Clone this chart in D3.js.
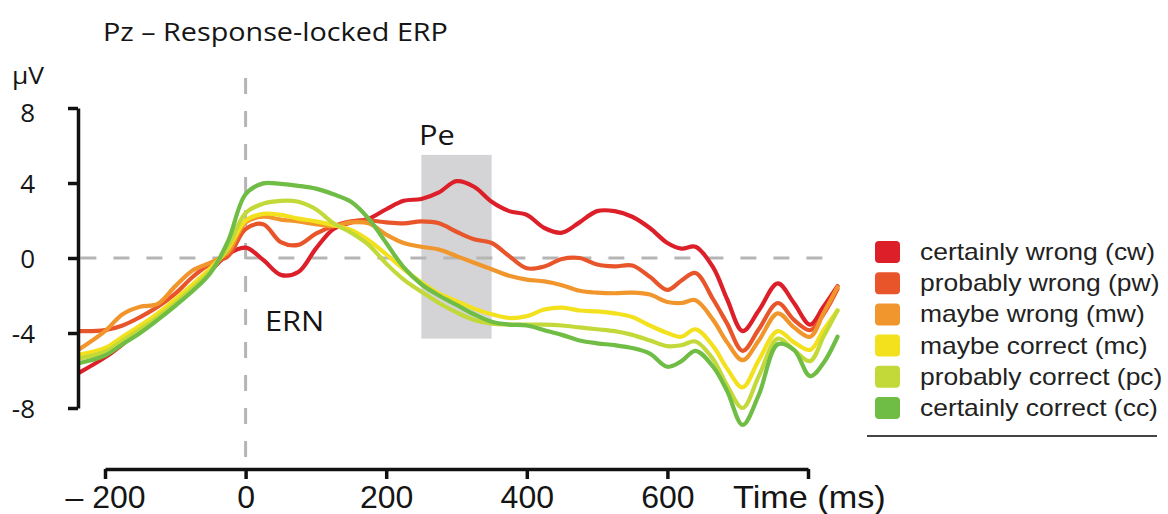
<!DOCTYPE html>
<html>
<head>
<meta charset="utf-8">
<script src="https://cdn.jsdelivr.net/npm/d3@7.9.0/dist/d3.min.js"></script>
<style>
  body { margin: 0; background: #fff; }
  svg { display: block; }
</style>
</head>
<body>
<svg id="chart" width="1168" height="514"></svg>
<script>
// time points (ms) shared by all six conditions
const times = [-236, -200, -175, -150, -125, -100, -75, -50, -25, 0, 25, 50, 75, 100, 125, 150, 175, 200,
  225, 250, 275, 300, 325, 350, 375, 400, 425, 450, 475, 500, 525, 550, 575, 600, 620, 640, 665, 685,
  707, 730, 757, 780, 803, 822, 842];

// amplitude (µV) per condition
const cw = [-6.1, -5.3, -4.6, -3.8, -3.1, -2.4, -1.6, -0.7, 0.2, 0.55, -0.1, -0.9, -0.75, 0.5, 1.55, 1.9, 2.1, 2.6,
  3.05, 3.15, 3.5, 4.1, 3.8, 3.0, 2.5, 2.3, 1.6, 1.35, 1.9, 2.5, 2.5, 2.2, 1.6, 0.8, 0.5, 0.6, -0.5, -2.2,
  -3.9, -2.8, -1.35, -2.4, -3.55, -2.6, -1.5];
const pw = [-3.9, -3.85, -3.6, -3.15, -2.6, -1.9, -1.0, -0.3, 0.1, 1.55, 1.8, 0.85, 0.7, 1.3, 1.7, 1.95, 2.0, 1.9,
  1.85, 1.95, 1.85, 1.4, 1.0, 0.8, 0.1, -0.55, -0.45, -0.05, 0.0, -0.35, -0.45, -0.4, -1.0, -1.7, -1.2, -0.8, -2.2, -3.5,
  -4.95, -3.8, -2.4, -3.3, -3.85, -3.0, -1.65];
const mw = [-4.85, -3.9, -3.0, -2.6, -2.45, -1.5, -0.65, -0.25, 0.3, 1.9, 2.2, 2.05, 1.95, 1.8, 1.7, 1.9, 1.85, 1.25,
  0.8, 0.6, 0.45, 0.1, -0.25, -0.6, -0.95, -1.15, -1.25, -1.45, -1.75, -1.85, -1.88, -1.85, -1.95, -2.35, -2.4, -2.25, -3.3, -4.5,
  -5.45, -4.4, -2.95, -3.7, -4.2, -2.95, -1.55];
const mc = [-5.15, -4.8, -4.2, -3.6, -2.95, -2.2, -1.4, -0.55, 0.5, 2.0, 2.35, 2.3, 2.1, 1.95, 1.75, 1.5, 0.95, 0.2,
  -0.6, -1.3, -1.9, -2.3, -2.7, -3.0, -3.2, -3.1, -2.75, -2.65, -2.8, -2.85, -2.95, -3.15, -3.6, -4.0, -4.2, -3.8, -4.7, -5.9,
  -6.9, -5.45, -3.9, -4.5, -4.9, -3.85, -2.8];
const pc = [-5.35, -5.0, -4.4, -3.8, -3.15, -2.4, -1.6, -0.7, 0.6, 2.4, 2.9, 3.05, 3.0, 2.6, 1.85, 1.35, 0.7, -0.3,
  -1.15, -1.8, -2.4, -2.9, -3.3, -3.5, -3.55, -3.55, -3.55, -3.6, -3.7, -3.8, -3.9, -4.1, -4.4, -4.7, -4.65, -4.45, -5.4, -6.8,
  -8.0, -6.3, -4.3, -4.9, -5.5, -4.2, -2.8];
const cc = [-5.6, -5.2, -4.6, -4.0, -3.3, -2.55, -1.75, -0.8, 0.9, 3.4, 3.98, 3.95, 3.85, 3.7, 3.4, 3.0, 2.1, 0.8,
  -0.5, -1.4, -2.0, -2.5, -3.0, -3.4, -3.55, -3.6, -3.85, -4.1, -4.4, -4.55, -4.65, -4.8, -5.1, -5.8, -5.5, -4.95, -5.8, -7.1,
  -8.9, -7.3, -4.6, -4.9, -6.3, -5.6, -4.2];

const labels = ['certainly wrong (cw)', 'probably wrong (pw)', 'maybe wrong (mw)',
  'maybe correct (mc)', 'probably correct (pc)', 'certainly correct (cc)'];
const colors = ['#dc1f29', '#e8552a', '#f1962c', '#f2e11c', '#c3d93a', '#6fbd45'];

const xTicks = [-200, 0, 200, 400, 600, 800];
const yTicks = [-8, -4, 0, 4, 8];
const peWindow = [250, 350];   // ms
const peRange = [-4.3, 5.5];   // µV

const series = [cw, pw, mw, mc, pc, cc].map((vals, i) => ({ label: labels[i], color: colors[i], values: vals }));

const svg = d3.select('#chart');
const x = d3.scaleLinear().domain([-200, 800]).range([105, 808]);
const y = d3.scaleLinear().domain([-8, 8]).range([408, 108]);
const sans = '"Open Sans", sans-serif';
const arial = '"Liberation Sans", Arial, sans-serif';

function label(str, px, py, size, family, sx, anchor) {
  svg.append('text')
    .attr('transform', `translate(${px},${py}) scale(${sx},1)`)
    .attr('font-family', family)
    .attr('font-size', size)
    .attr('text-anchor', anchor || 'start')
    .attr('fill', '#151515')
    .text(str);
}

// Pe window
svg.append('rect')
  .attr('x', x(peWindow[0]))
  .attr('y', y(peRange[1]))
  .attr('width', x(peWindow[1]) - x(peWindow[0]))
  .attr('height', y(peRange[0]) - y(peRange[1]))
  .attr('fill', '#d4d4d6');

// dashed reference lines
svg.append('line')
  .attr('x1', x(-235)).attr('x2', x(830))
  .attr('y1', y(0)).attr('y2', y(0))
  .attr('stroke', '#b5b5b5').attr('stroke-width', 3)
  .attr('stroke-dasharray', '16 17');
svg.append('line')
  .attr('x1', x(0)).attr('x2', x(0))
  .attr('y1', 78).attr('y2', 466)
  .attr('stroke', '#b5b5b5').attr('stroke-width', 3)
  .attr('stroke-dasharray', '16 17');

// ERP traces
const line = d3.line()
  .x((d, i) => x(times[i]))
  .y(d => y(d))
  .curve(d3.curveCatmullRom.alpha(0.5));

svg.append('g')
  .selectAll('path')
  .data(series)
  .join('path')
  .attr('d', d => line(d.values))
  .attr('fill', 'none')
  .attr('stroke', d => d.color)
  .attr('stroke-width', 4.2)
  .attr('stroke-linejoin', 'round')
  .attr('stroke-linecap', 'round');

// y axis
const yAxis = svg.append('g')
  .attr('transform', 'translate(78,0)')
  .call(d3.axisLeft(y).tickValues(yTicks).tickSizeInner(10).tickSizeOuter(0).tickPadding(33)
    .tickFormat(d => d));
yAxis.selectAll('path, line').attr('stroke', '#111').attr('stroke-width', 3.5);
yAxis.selectAll('text').attr('font-family', sans).attr('font-size', 26).attr('fill', '#151515')
  .attr('dy', d => d === 8 ? '0.5em' : '0.36em');

// x axis
const xAxis = svg.append('g')
  .attr('transform', 'translate(0,469)')
  .call(d3.axisBottom(x).tickValues(xTicks).tickSizeInner(10).tickSizeOuter(0).tickPadding(6)
    .tickFormat(d => d === 800 ? '' : (d < 0 ? '\u2013 ' + Math.abs(d) : d)));
xAxis.selectAll('path, line').attr('stroke', '#111').attr('stroke-width', 3.5);
xAxis.selectAll('text').attr('font-family', arial).attr('font-size', 32).attr('fill', '#151515');

// texts
label('Pz \u2013 Response-locked ERP', 103, 41, 25, sans, 1.15);
label('\u03bcV', 12, 84, 24, sans, 1.1);
label('ERN', 265, 331, 28, sans, 1.1);
label('Pe', 419, 145, 28, sans, 1.1);
label('Time (ms)', 733, 508, 32, arial, 1.07);

// legend
const legend = svg.append('g').attr('transform', 'translate(875,252)');
const rows = legend.selectAll('g')
  .data(series)
  .join('g')
  .attr('transform', (d, i) => `translate(0,${i * 31.2})`);
rows.append('rect')
  .attr('x', 0).attr('y', -11)
  .attr('width', 25).attr('height', 22)
  .attr('rx', 4)
  .attr('fill', d => d.color);
rows.append('text')
  .attr('transform', 'translate(45,8) scale(1.15,1)')
  .attr('font-family', arial)
  .attr('font-size', 23)
  .attr('fill', '#222')
  .text(d => d.label);
legend.append('line')
  .attr('x1', -8).attr('x2', 282)
  .attr('y1', 184).attr('y2', 184)
  .attr('stroke', '#444').attr('stroke-width', 2);
</script>
</body>
</html>
